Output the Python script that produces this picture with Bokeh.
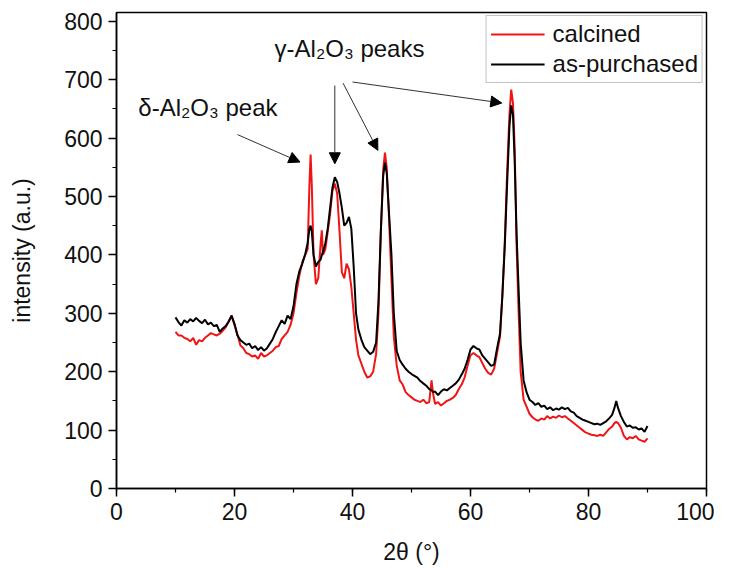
from bokeh.plotting import figure
from bokeh.models import Label, Arrow, NormalHead, SingleIntervalTicker, Range1d
from bokeh.embed import file_html
from bokeh.resources import INLINE

two_theta = [10, 10.5, 11, 11.5, 12, 12.5, 13, 13.5, 14, 14.5, 15, 15.5, 16, 16.5, 17, 17.5,
             18, 18.5, 19, 19.5, 20, 20.5, 21, 21.5, 22, 22.5, 23, 23.5, 24, 24.5, 25, 25.5,
             26, 26.5, 27, 27.5, 28, 28.5, 29, 29.5, 30, 30.5, 31, 31.5, 32, 32.4, 32.7, 32.9,
             33.1, 33.4, 33.8, 34.2, 34.6, 34.8, 35.0, 35.4, 35.8, 36.2, 36.6, 37.0, 37.4, 37.8,
             38.2, 38.6, 39.0, 39.4, 39.8, 40.2, 40.6, 41.0, 41.5, 42, 42.5, 43, 43.5, 44, 44.4,
             44.8, 45.2, 45.5, 45.8, 46.2, 46.6, 47.0, 47.5, 48, 48.5, 49, 49.5, 50, 50.5, 51,
             51.5, 52, 52.5, 53, 53.4, 53.7, 54, 54.5, 55, 55.5, 56, 56.5, 57, 57.5, 58, 58.5,
             59, 59.5, 60, 60.5, 61, 61.5, 62, 62.5, 63, 63.5, 64, 64.5, 65, 65.4, 65.8, 66.2,
             66.6, 66.9, 67.2, 67.5, 67.8, 68.1, 68.5, 69, 69.5, 70, 70.5, 71, 71.5, 72, 72.5,
             73, 73.5, 74, 74.5, 75, 75.5, 76, 76.5, 77, 77.5, 78, 78.5, 79, 79.5, 80, 80.5, 81,
             81.5, 82, 82.5, 83, 83.5, 84, 84.4, 84.7, 85, 85.5, 86, 86.5, 87, 87.5, 88, 88.5,
             89, 89.5, 90]

as_purchased = [293, 285, 279, 288, 284, 290, 286, 292, 287, 283, 289, 281, 284, 278, 280, 268,
                274, 278, 286, 296, 282, 262, 254, 250, 246, 248, 240, 244, 237, 242, 236, 240,
                248, 256, 268, 278, 288, 282, 296, 290, 312, 350, 372, 385, 402, 420, 445, 450,
                440, 400, 380, 388, 392, 400, 405, 420, 445, 480, 515, 533, 525, 505,
                480, 450, 455, 465, 445, 380, 300, 272, 255, 242, 236, 230, 234, 250, 320,
                440, 535, 558, 540, 470, 400, 300, 235, 220, 212, 205, 200, 196, 193, 190,
                184, 180, 176, 170, 168, 165, 166, 160, 166, 170, 168, 172, 176, 180, 186, 195,
                205, 220, 238, 244, 240, 238, 228, 222, 216, 210, 212, 240, 265, 330, 413, 520,
                620, 656, 640, 556, 440, 356, 250, 185, 165, 152, 148, 143, 146, 140, 142,
                136, 139, 134, 137, 135, 139, 136, 138, 132, 130, 124, 121, 118, 116, 114, 112, 110,
                111, 109, 112, 115, 120, 126, 138, 150, 138, 124, 114, 106, 108, 104, 105, 101,
                103, 97, 107]

calcined = [268, 262, 262, 258, 256, 252, 258, 246, 254, 252, 258, 262, 266, 264, 262, 265,
            270, 276, 285, 296, 280, 264, 245, 240, 232, 230, 226, 228, 222, 232, 226, 228,
            232, 236, 242, 244, 256, 262, 268, 280, 300, 335, 365, 388, 400, 410, 520, 572,
            520, 400, 350, 360, 420, 442, 400, 410, 440, 470, 510, 522, 505, 440,
            370, 360, 385, 375, 345, 300, 255, 228, 214, 200, 190, 192, 200, 230, 300,
            440, 545, 575, 550, 460, 360, 260, 210, 185, 178, 165, 160, 156, 152, 150,
            148, 152, 146, 148, 185, 160, 145, 148, 142, 146, 150, 152, 155, 160, 170, 178,
            190, 210, 228, 232, 228, 225, 215, 205, 198, 195, 205, 232, 260, 330, 420, 540,
            640, 683, 660, 580, 420, 320, 200, 152, 140, 128, 122, 118, 116, 120, 118,
            124, 120, 123, 121, 125, 122, 124, 120, 116, 112, 108, 104, 100, 96, 94, 92, 91,
            90, 92, 90, 96, 102, 106, 112, 114, 112, 104, 90, 84, 88, 86, 90, 84,
            82, 80, 86]

series_names = ["calcined", "as-purchased"]
annotation_texts = ["δ-Al₂O₃ peak", "γ-Al₂O₃ peaks"]

FONT = "Liberation Sans"

p = figure(width=714, height=570, output_backend="svg", toolbar_location=None,
           x_range=Range1d(0, 100), y_range=Range1d(0, 815),
           min_border_left=116, min_border_right=8, min_border_top=12, min_border_bottom=82)
p.xgrid.visible = False
p.ygrid.visible = False
p.background_fill_color = "white"
p.border_fill_color = "white"
p.outline_line_color = "black"
p.outline_line_width = 1.5
p.outline_line_alpha = 1.0

p.line(two_theta, calcined, line_color="#f01414", line_width=2, legend_label=series_names[0])
p.line(two_theta, as_purchased, line_color="#000000", line_width=2, legend_label=series_names[1])

p.xaxis.ticker = SingleIntervalTicker(interval=20, num_minor_ticks=2)
p.yaxis.ticker = SingleIntervalTicker(interval=100, num_minor_ticks=2)
p.xaxis.axis_label = "2θ (°)"
p.yaxis.axis_label = "intensity (a.u.)"
for ax in (p.xaxis, p.yaxis):
    ax.axis_line_width = 1.5
    ax.axis_line_color = "black"
    ax.major_tick_out = 8
    ax.major_tick_in = 0
    ax.minor_tick_out = 4
    ax.minor_tick_in = 0
    ax.major_tick_line_width = 1.5
    ax.minor_tick_line_width = 1.2
    ax.major_label_text_font = FONT
    ax.major_label_text_font_size = "23px"
    ax.major_label_text_color = "#111111"
    ax.axis_label_text_font = FONT
    ax.axis_label_text_font_size = "23px"
    ax.axis_label_text_font_style = "normal"
    ax.axis_label_text_color = "#111111"
p.xaxis.major_label_standoff = 6
p.yaxis.major_label_standoff = 6
p.xaxis.axis_label_standoff = 16
p.yaxis.axis_label_standoff = 26

lg = p.legend[0]
lg.location = "top_right"
lg.label_text_font = FONT
lg.label_text_font_size = "24px"
lg.label_text_color = "#111111"
lg.border_line_color = "#888888"
lg.border_line_width = 1
lg.glyph_width = 54
lg.label_standoff = 8
lg.padding = 4
lg.spacing = 2
lg.margin = 3
lg.background_fill_alpha = 1.0

p.add_layout(Label(x=3.7, y=652, text=annotation_texts[0], text_baseline="middle",
                   text_font=FONT, text_font_size="24px", text_color="#111111"))
p.add_layout(Label(x=26.8, y=753, text=annotation_texts[1], text_baseline="middle",
                   text_font=FONT, text_font_size="24px", text_color="#111111"))

arrows = [
    (20.5, 606, 31.1, 559),
    (37.0, 690, 37.0, 556),
    (38.4, 694, 44.3, 579),
    (40.0, 696, 65.3, 660),
]
for xs, ys, xe, ye in arrows:
    p.add_layout(Arrow(x_start=xs, y_start=ys, x_end=xe, y_end=ye,
                       line_color="#333333", line_width=1,
                       end=NormalHead(size=11, fill_color="black", line_color="black")))

open("out.html", "w").write(file_html(p, INLINE))
